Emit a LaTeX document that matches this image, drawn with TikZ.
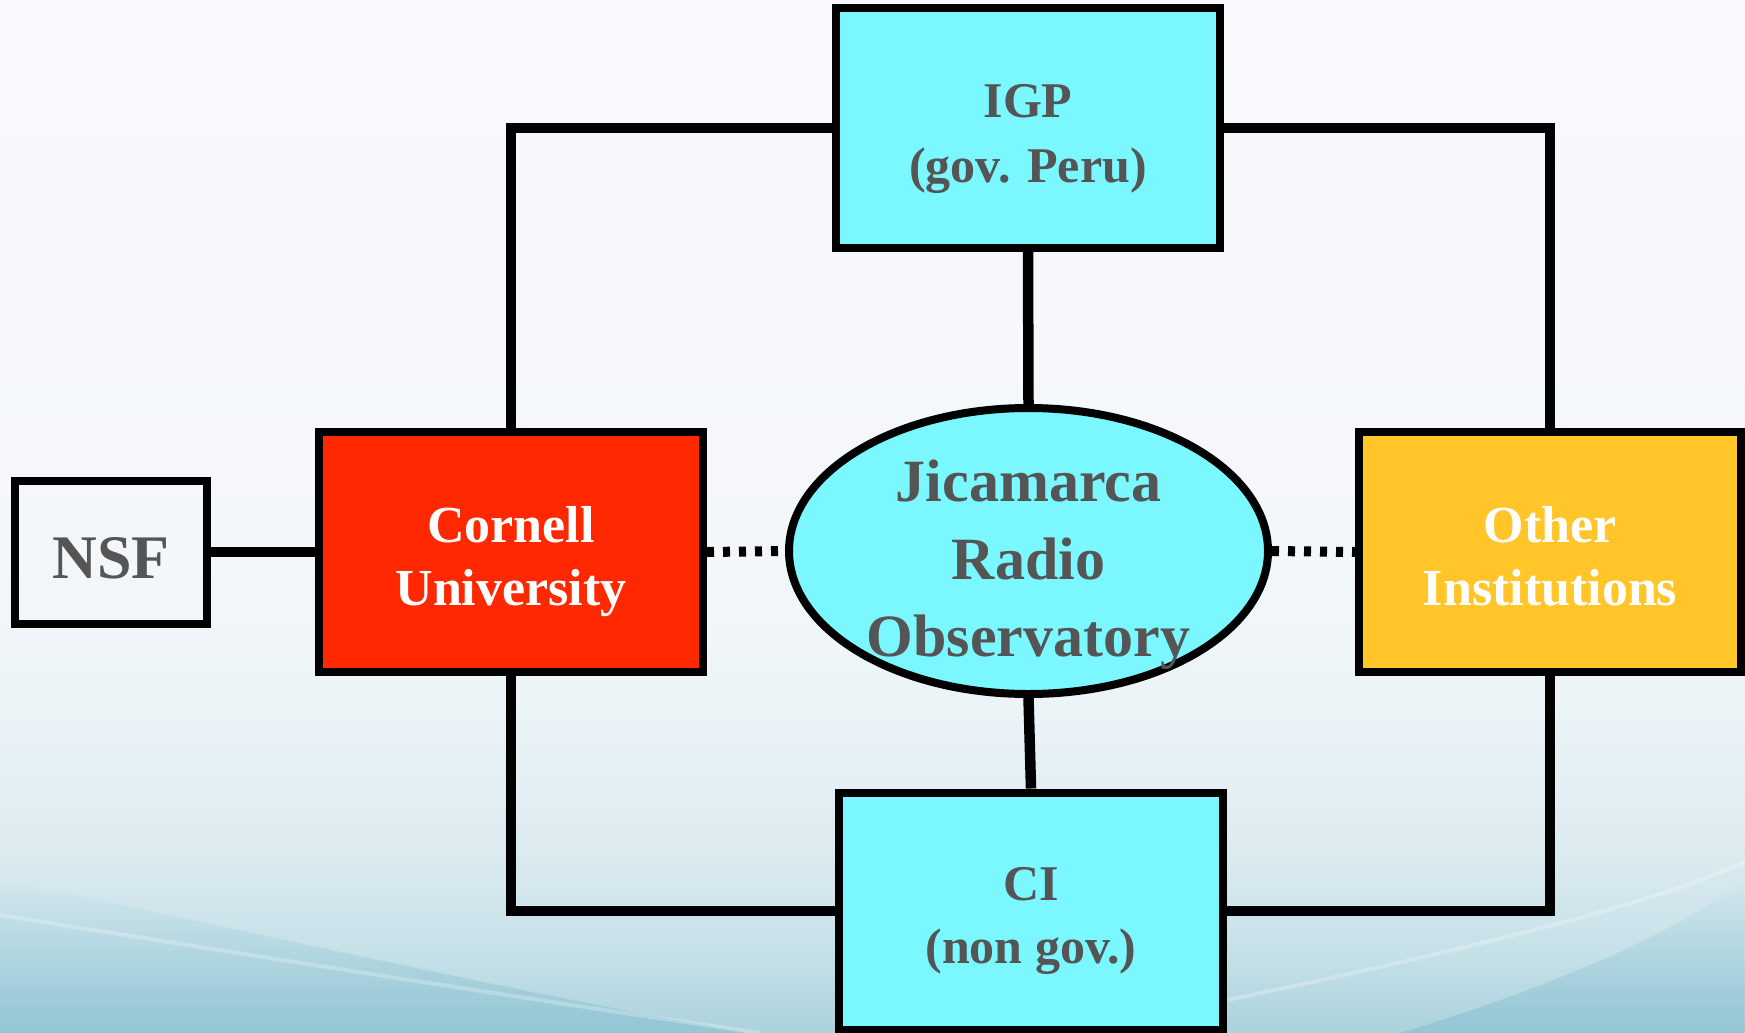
\documentclass[tikz,border=0pt]{standalone}
\usepackage{fontspec}
\setmainfont{Liberation Serif}
\usetikzlibrary{shapes.geometric,fadings}
\definecolor{boxcyan}{RGB}{122,247,255}
\definecolor{boxred}{RGB}{255,40,0}
\definecolor{boxyellow}{RGB}{255,197,41}
\definecolor{txtgray}{RGB}{85,85,85}
\definecolor{bgtop}{RGB}{249,249,253}
\definecolor{bgA}{RGB}{244,247,250}
\definecolor{bgB}{RGB}{236,244,247}
\definecolor{bgC}{RGB}{220,235,240}
\definecolor{bgD}{RGB}{198,225,232}
\definecolor{bgbot}{RGB}{172,210,221}
\definecolor{bgdark}{RGB}{132,191,208}
\pgfdeclareverticalshading{bgshade}{100bp}{color(0bp)=(bgbot); color(25bp)=(bgbot); color(29bp)=(bgD); color(33.9bp)=(bgC); color(41.1bp)=(bgB); color(48.4bp)=(bgA); color(75bp)=(bgtop); color(100bp)=(bgtop)}
\tikzset{
  box/.style={draw=black, line width=8pt, rectangle, inner sep=0pt},
  conn/.style={draw=black, line width=10.5pt, line join=miter},
  dotline/.style={draw=black, line width=10pt, dash pattern=on 7pt off 9pt},
  lbl/.style={text=txtgray, align=center, inner sep=0pt, outer sep=0pt},
  fA/.style={font={\fontsize{50}{65}\selectfont\bfseries}},
  fB/.style={font={\fontsize{52}{63}\selectfont\bfseries}},
  fC/.style={font={\fontsize{60}{77.5}\selectfont\bfseries}},
  fD/.style={font={\fontsize{62}{70}\selectfont\bfseries}},
  fE/.style={font={\fontsize{50}{63}\selectfont\bfseries}},
}
\begin{document}
\begin{tikzpicture}[x=1pt,y=-1pt]
\useasboundingbox (0,0) rectangle (1745,1033);
% background
\shade[shading=bgshade] (0,0) rectangle (1745,1033);
\fill[bgdark, opacity=0.6, path fading=north] (0,880) .. controls (250,930) and (500,990) .. (750,1033) -- (0,1033) -- cycle;
\draw[white, opacity=0.25, line width=4pt] (0,915) .. controls (250,955) and (500,995) .. (760,1033);
\fill[bgdark, opacity=0.6, path fading=north] (1400,1033) .. controls (1560,985) and (1680,930) .. (1745,880) -- (1745,1033) -- cycle;
\draw[white, opacity=0.25, line width=4pt] (1180,1010) .. controls (1420,960) and (1640,910) .. (1745,862);

% nodes
\node[box, fill=boxcyan, minimum width=384pt, minimum height=240pt] (IGP) at (1028,128) {};
\node[box, fill=boxred, minimum width=384pt, minimum height=240pt] (COR) at (511,552) {};
\node[box, minimum width=192pt, minimum height=143pt] (NSF) at (111,552) {};
\node[draw=black, line width=8pt, ellipse, fill=boxcyan, inner sep=0pt, minimum width=479pt, minimum height=286pt] (JRO) at (1028.5,551) {};
\node[box, fill=boxyellow, minimum width=382pt, minimum height=240pt] (OTH) at (1550,552) {};
\node[box, fill=boxcyan, minimum width=384pt, minimum height=237pt] (CI) at (1031,911) {};

% labels
\node[lbl, fA, anchor=north] (IGPt) at (1028,84) {IGP\\(gov. Peru)};
\node[lbl, fB, anchor=north, text=white] (CORt) at (511,506) {Cornell\\University};
\node[lbl, fD, anchor=base] (NSFt) at (111,578) {NSF};
\node[lbl, fC, anchor=north] (JROt) at (1028.5,460) {Jicamarca\\Radio\\Observatory};
\node[lbl, fB, anchor=north, text=white] (OTHt) at (1550,506) {Other\\Institutions};
\node[lbl, fE, anchor=north] (CIt) at (1031,867) {CI\\(non gov.)};

% connectors
\draw[conn] (IGP.west) -| (COR.north);
\draw[conn] (IGP.east) -| (OTH.north);
\draw[conn] (COR.south) |- (CI.west);
\draw[conn] (OTH.south) |- (CI.east);
\draw[conn] (NSF.east) -- (COR.west);
\draw[conn] (IGP.south) -- (JRO.north);
\draw[conn] (JRO.south) -- (CI.north);
\draw[dotline] (COR.east) -- (JRO.west);
\draw[dotline] (JRO.east) -- (OTH.west);
\end{tikzpicture}
\end{document}
